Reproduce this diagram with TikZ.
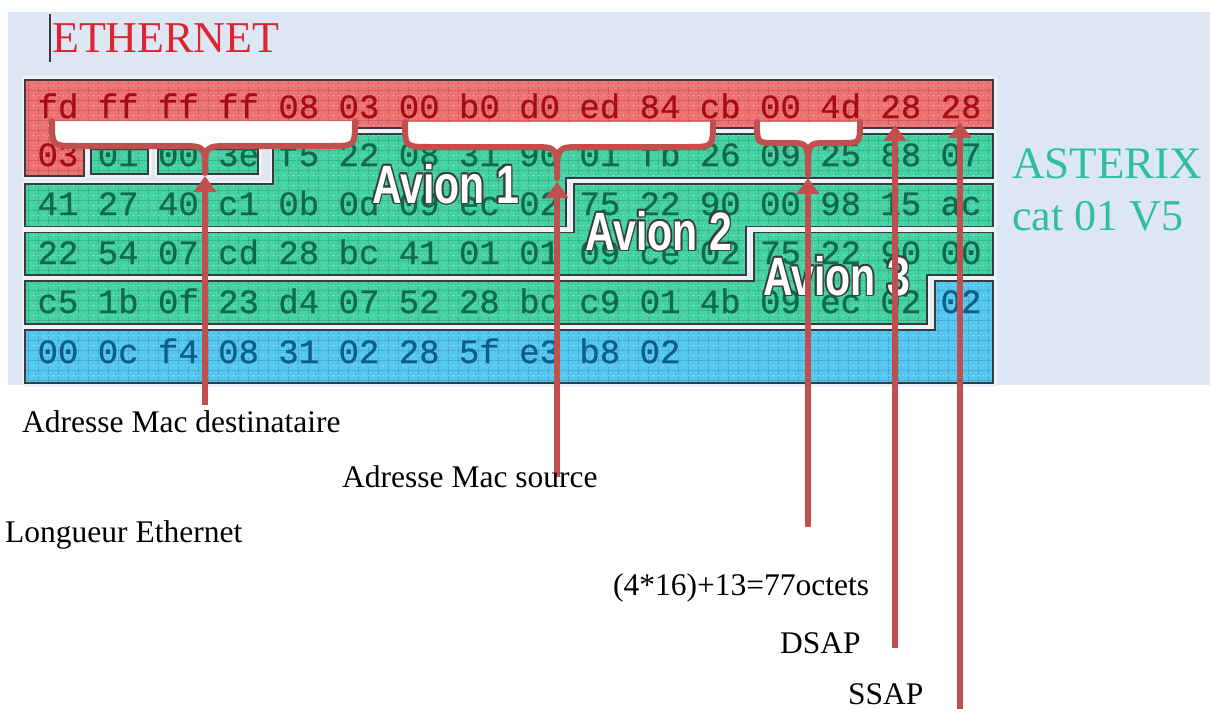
\documentclass[tikz,border=0pt]{standalone}
\usepackage{fontspec}
\setmainfont{Liberation Serif}
\newfontfamily\monof[UprightFeatures={FakeBold=0.7}]{Liberation Mono}
\newfontfamily\avionf{Liberation Sans}
\usetikzlibrary{arrows.meta}
\definecolor{bgc}{HTML}{DCE7F3}
\definecolor{gapc}{HTML}{EEF2F8}
\definecolor{redf}{HTML}{F07272}
\definecolor{greenf}{HTML}{45D3A3}
\definecolor{bluef}{HTML}{55C8F2}
\definecolor{hexR}{HTML}{A50D12}
\definecolor{hexG}{HTML}{0E6A4A}
\definecolor{hexB}{HTML}{0C5C8C}
\definecolor{arrc}{HTML}{C0504D}
\definecolor{ethc}{HTML}{DC2432}
\definecolor{astc}{HTML}{2FBF9B}
\definecolor{edgec}{HTML}{383C40}
\newcommand\polyRed{(25,80) -- (993,80) -- (993,128) -- (84,128) -- (84,176) -- (25,176) -- cycle}
\newcommand\polyBoxA{(91,149) -- (148,149) -- (148,174) -- (91,174) -- cycle}
\newcommand\polyBoxB{(158,149) -- (258,149) -- (258,174) -- (158,174) -- cycle}
\newcommand\polyAvA{(273,134) -- (993,134) -- (993,178) -- (566,178) -- (566,226.5) -- (25,226.5) -- (25,184) -- (273,184) -- cycle}
\newcommand\polyAvB{(574,184) -- (993,184) -- (993,226.5) -- (746,226.5) -- (746,275) -- (25,275) -- (25,232.5) -- (574,232.5) -- cycle}
\newcommand\polyAvC{(754,232.5) -- (993,232.5) -- (993,275) -- (927,275) -- (927,324) -- (25,324) -- (25,281) -- (754,281) -- cycle}
\newcommand\polyBlue{(935,281) -- (993,281) -- (993,383) -- (25,383) -- (25,330) -- (935,330) -- cycle}
\newcommand\bracepath[7]{(#1,#4) .. controls (#1,#5) .. ({#1+#7},#5) -- ({#2-#7},#5) .. controls (#2,#5) .. (#2,#6) .. controls (#2,#5) .. ({#2+#7},#5) -- ({#3-#7},#5) .. controls (#3,#5) .. (#3,#4)}
\tikzset{
  halo/.style={draw=gapc, line width=7pt, line join=round},
  edge/.style={draw=edgec, line width=1.2pt},
  gridl/.style={draw=black, opacity=0.13, line width=0.6pt},
  gridd/.style={draw=white, opacity=0.5, line width=0.8pt, dash pattern=on 0.8pt off 4.2pt},
  hex/.style={anchor=base, inner sep=0pt, font=\monof\fontsize{34}{36}\selectfont},
  avion/.style={anchor=base west, inner sep=0pt, font=\avionf\bfseries\fontsize{54}{56}\selectfont},
  lab/.style={anchor=base west, inner sep=0pt, font=\fontsize{31.5}{36}\selectfont, text=black},
  bracestroke/.style={draw=arrc, line width=6pt, line cap=round, line join=round},
  arr/.style={draw=arrc, line width=6pt, -{Triangle[length=16pt,width=22pt]}},
}
\newcommand\avionlabel[4]{%
  \foreach \dx/\dy [count=\k] in {-1.6/0,1.6/0,0/-1.6,0/1.6,-1.2/-1.2,1.2/1.2,-1.2/1.2,1.2/-1.2}
    \node[avion, text=edgec] (#1s\k) at ({#2+\dx},{#3+\dy}) {\scalebox{0.76}[1]{#4}};
  \node[avion, text=white] (#1) at (#2,#3) {\scalebox{0.76}[1]{#4}};}
\begin{document}
\begin{tikzpicture}[x=1pt,y=-1pt]
\useasboundingbox (0,0) rectangle (1210,709);
\fill[white] (0,0) rectangle (1210,709);
\fill[bgc] (8,12) rectangle (1210,385);
% halos
\path[halo] \polyRed;
\path[halo] \polyBoxA;
\path[halo] \polyBoxB;
\path[halo] \polyAvA;
\path[halo] \polyAvB;
\path[halo] \polyAvC;
\path[halo] \polyBlue;
% fills
\fill[redf] \polyRed;
\fill[greenf] \polyBoxA;
\fill[greenf] \polyBoxB;
\fill[greenf] \polyAvA;
\fill[greenf] \polyAvB;
\fill[greenf] \polyAvC;
\fill[bluef] \polyBlue;
% grid texture
\begin{scope}
\clip \polyRed \polyBoxA \polyBoxB \polyAvA \polyAvB \polyAvC \polyBlue;
\foreach \gx in {28,38,...,998} \draw[gridl] (\gx,75) -- (\gx,390);
\foreach \gy in {80,90,...,390} \draw[gridl] (20,\gy) -- (1000,\gy);
\foreach \gy in {85,95,...,385} \draw[gridd] (33,\gy) -- (1000,\gy);
\end{scope}
% borders
\path[edge] \polyRed;
\path[edge] \polyBoxA;
\path[edge] \polyBoxB;
\path[edge] \polyAvA;
\path[edge] \polyAvB;
\path[edge] \polyAvC;
\path[edge] \polyBlue;
% hex bytes
\foreach \r/\yb/\bytes in {
  0/118/{fd,ff,ff,ff,08,03,00,b0,d0,ed,84,cb,00,4d,28,28},
  1/166/{03,01,00,3e,f5,22,08,31,90,01,fb,26,09,25,88,07},
  2/215/{41,27,40,c1,0b,0d,09,ec,02,75,22,90,00,98,15,ac},
  3/264/{22,54,07,cd,28,bc,41,01,01,09,ce,02,75,22,90,00},
  4/313/{c5,1b,0f,23,d4,07,52,28,bc,c9,01,4b,09,ec,02,02},
  5/363/{00,0c,f4,08,31,02,28,5f,e3,b8,02}}{
  \foreach \b [count=\c from 0] in \bytes {
    \def\tc{hexG}%
    \ifnum\r=0 \def\tc{hexR}\fi
    \ifnum\r=1 \ifnum\c=0 \def\tc{hexR}\fi\fi
    \ifnum\r=5 \def\tc{hexB}\fi
    \ifnum\r=4 \ifnum\c=15 \def\tc{hexB}\fi\fi
    \node[hex, text=\tc] (h\r-\c) at ({58+60.2*\c},\yb) {\b};
  }
}
% Avion labels
\avionlabel{av1}{372}{203}{Avion 1}
\avionlabel{av2}{585}{250}{Avion 2}
\avionlabel{av3}{763}{295}{Avion 3}
% titles
\draw[edgec, line width=1.5pt] (50,14) -- (50,62);
\node[anchor=base west, inner sep=0pt, text=ethc, font=\fontsize{44}{48}\selectfont] (eth) at (52,53) {ETHERNET};
\node[anchor=base west, inner sep=0pt, text=astc, font=\fontsize{45}{48}\selectfont] (ast) at (1012,178) {ASTERIX};
\node[anchor=base west, inner sep=0pt, text=astc, font=\fontsize{44}{48}\selectfont] (cat) at (1012,230) {cat 01 V5};
% braces
\fill[white] \bracepath{52}{205}{355}{121}{146}{173}{25} -- cycle;
\path[bracestroke] \bracepath{52}{205}{355}{121}{146}{173}{25};
\fill[white] \bracepath{405}{557}{713}{122}{147}{178}{25} -- cycle;
\path[bracestroke] \bracepath{405}{557}{713}{122}{147}{178}{25};
\fill[white] \bracepath{757}{808}{860}{122}{143}{175}{18} -- cycle;
\path[bracestroke] \bracepath{757}{808}{860}{122}{143}{175}{18};
% arrow ends
\coordinate (t1) at (205,176);
\coordinate (e1) at (205,405);
\coordinate (t2) at (557,182);
\coordinate (e2) at (557,477);
\coordinate (t3) at (808,178);
\coordinate (e3) at (808,527);
\coordinate (t4) at (895,125);
\coordinate (e4) at (895,648);
\coordinate (t5) at (960,122);
\coordinate (e5) at (960,712);
\draw[arr] (e1) -- (t1);
\draw[arr] (e2) -- (t2);
\draw[arr] (e3) -- (t3);
\draw[arr] (e4) -- (t4);
\draw[arr] (e5) -- (t5);
% labels
\node[lab] (l1) at (22,432) {Adresse Mac destinataire};
\node[lab] (l2) at (342,487) {Adresse Mac source};
\node[lab] (l3) at (5,542) {Longueur Ethernet};
\node[lab] (l4) at (613,595) {(4*16)+13=77octets};
\node[lab] (l5) at (780,653) {DSAP};
\node[lab] (l6) at (848,704) {SSAP};
\end{tikzpicture}
\end{document}
